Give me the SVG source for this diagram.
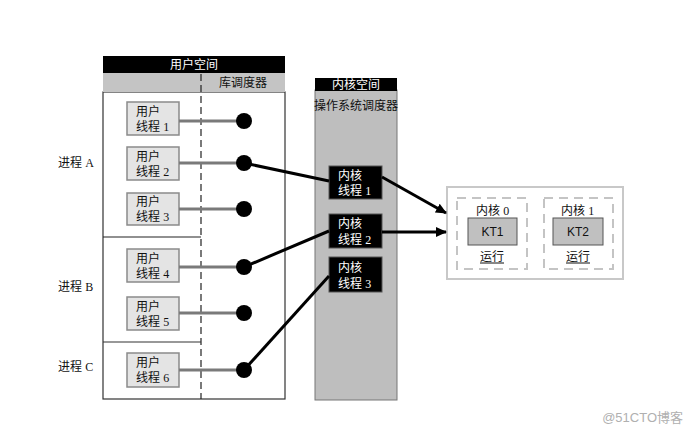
<svg xmlns="http://www.w3.org/2000/svg" width="693" height="433" viewBox="0 0 693 433">
<style>
text{font-family:"Liberation Sans","Noto Sans CJK SC",sans-serif;font-size:12px;fill:#111}
.w{fill:#fff}
.d{font-family:"Liberation Serif","Noto Sans CJK SC",serif}
.ut{fill:#e4e4e4;stroke:#8a8a8a;stroke-width:1.5}
.kt{fill:#000;stroke:#555;stroke-width:1}
.lk{stroke:#7a7a7a;stroke-width:3}
.con{stroke:#000;stroke-width:3;fill:none}
.dash{fill:none;stroke:#c4c4c4;stroke-width:2;stroke-dasharray:9,6}
</style>
<defs>
<marker id="ah" markerWidth="11" markerHeight="10" refX="10" refY="5" orient="auto" markerUnits="userSpaceOnUse" viewBox="0 0 11 10"><path d="M0,0 L11,5 L0,10 z" fill="#000"/></marker>
</defs>
<rect width="693" height="433" fill="#fff"/>
<g id="user-space">
<rect x="103" y="92" width="182" height="307" fill="#fff" stroke="#333" stroke-width="1.2"/>
<rect x="103" y="56" width="182" height="17" fill="#000"/>
<text class="w" x="194" y="69" text-anchor="middle">用户空间</text>
<rect x="103" y="73" width="182" height="19" fill="#c4c4c4"/>
<text x="243" y="87" text-anchor="middle">库调度器</text>
<line x1="201" y1="74" x2="201" y2="399" stroke="#222" stroke-width="1.2" stroke-dasharray="7,4"/>
<line x1="103" y1="237" x2="201" y2="237" stroke="#222" stroke-width="1.2"/>
<line x1="103" y1="342" x2="201" y2="342" stroke="#333" stroke-width="1.2"/>
</g>
<g id="labels">
<text x="58" y="167">进程 <tspan class="d">A</tspan></text>
<text x="58" y="291">进程 <tspan class="d">B</tspan></text>
<text x="58" y="371">进程 <tspan class="d">C</tspan></text>
</g>
<g id="ut1"><rect class="ut" x="127" y="102" width="52" height="33"/><line class="lk" x1="179" y1="121" x2="244" y2="121"/><circle cx="244" cy="121" r="8"/><text x="136" y="116">用户</text><text x="136" y="131">线程 <tspan class="d">1</tspan></text></g>
<g id="ut2"><rect class="ut" x="127" y="147" width="52" height="33"/><line class="lk" x1="179" y1="163" x2="244" y2="163"/><circle cx="244" cy="163" r="8"/><text x="136" y="161">用户</text><text x="136" y="176">线程 <tspan class="d">2</tspan></text></g>
<g id="ut3"><rect class="ut" x="127" y="193" width="52" height="32"/><line class="lk" x1="179" y1="209" x2="244" y2="209"/><circle cx="244" cy="209" r="8"/><text x="136" y="206">用户</text><text x="136" y="221">线程 <tspan class="d">3</tspan></text></g>
<g id="ut4"><rect class="ut" x="127" y="249" width="52" height="33"/><line class="lk" x1="179" y1="267" x2="244" y2="267"/><circle cx="244" cy="267" r="8"/><text x="136" y="263">用户</text><text x="136" y="278">线程 <tspan class="d">4</tspan></text></g>
<g id="ut5"><rect class="ut" x="127" y="297" width="52" height="33"/><line class="lk" x1="179" y1="313" x2="244" y2="313"/><circle cx="244" cy="313" r="8"/><text x="136" y="311">用户</text><text x="136" y="326">线程 <tspan class="d">5</tspan></text></g>
<g id="ut6"><rect class="ut" x="127" y="353" width="52" height="34"/><line class="lk" x1="179" y1="370" x2="244" y2="370"/><circle cx="244" cy="370" r="8"/><text x="136" y="367">用户</text><text x="136" y="382">线程 <tspan class="d">6</tspan></text></g>
<g id="kernel-space">
<rect x="315" y="90" width="82" height="310" fill="#bebebe" stroke="#777" stroke-width="1"/>
<rect x="315" y="78" width="82" height="13" fill="#000"/>
<text class="w" x="356" y="89" text-anchor="middle">内核空间</text>
<text x="356" y="110" text-anchor="middle">操作系统调度器</text>
</g>
<g id="kt1"><rect class="kt" x="329" y="166" width="53" height="33"/><text class="w" x="338" y="180">内核</text><text class="w" x="338" y="195">线程 <tspan class="d w">1</tspan></text></g>
<g id="kt2"><rect class="kt" x="329" y="214" width="53" height="34"/><text class="w" x="338" y="228">内核</text><text class="w" x="338" y="244">线程 <tspan class="d w">2</tspan></text></g>
<g id="kt3"><rect class="kt" x="329" y="257" width="53" height="35"/><text class="w" x="338" y="272">内核</text><text class="w" x="338" y="288">线程 <tspan class="d w">3</tspan></text></g>
<g id="cpu">
<rect x="447" y="187" width="176" height="92" fill="#fff" stroke="#c8c8c8" stroke-width="2"/>
<rect class="dash" x="457" y="198" width="70" height="71"/>
<rect class="dash" x="544" y="198" width="69" height="71"/>
<text x="476" y="215">内核 <tspan class="d">0</tspan></text>
<text x="561" y="215">内核 <tspan class="d">1</tspan></text>
<rect x="468" y="218" width="49" height="27" fill="#c0c0c0" stroke="#555" stroke-width="1"/>
<rect x="553" y="218" width="50" height="27" fill="#c0c0c0" stroke="#555" stroke-width="1"/>
<text x="492.5" y="236" text-anchor="middle">KT1</text>
<text x="578" y="236" text-anchor="middle">KT2</text>
<text x="492" y="261" text-anchor="middle">运行</text>
<text x="578" y="261" text-anchor="middle">运行</text>
<line x1="480" y1="263" x2="504" y2="263" stroke="#111" stroke-width="1"/>
<line x1="566" y1="263" x2="590" y2="263" stroke="#111" stroke-width="1"/>
</g>
<g id="connectors">
<line class="con" x1="244" y1="163" x2="329" y2="181"/>
<line class="con" x1="244" y1="267" x2="329" y2="231"/>
<line class="con" x1="244" y1="370" x2="329" y2="276"/>
<line class="con" x1="382" y1="177" x2="446" y2="213" marker-end="url(#ah)"/>
<line class="con" x1="382" y1="232" x2="446" y2="232" marker-end="url(#ah)"/>
</g>
<text x="683" y="422" text-anchor="end" style="fill:#b0b0b0;font-size:13px">@51CTO博客</text>
</svg>
